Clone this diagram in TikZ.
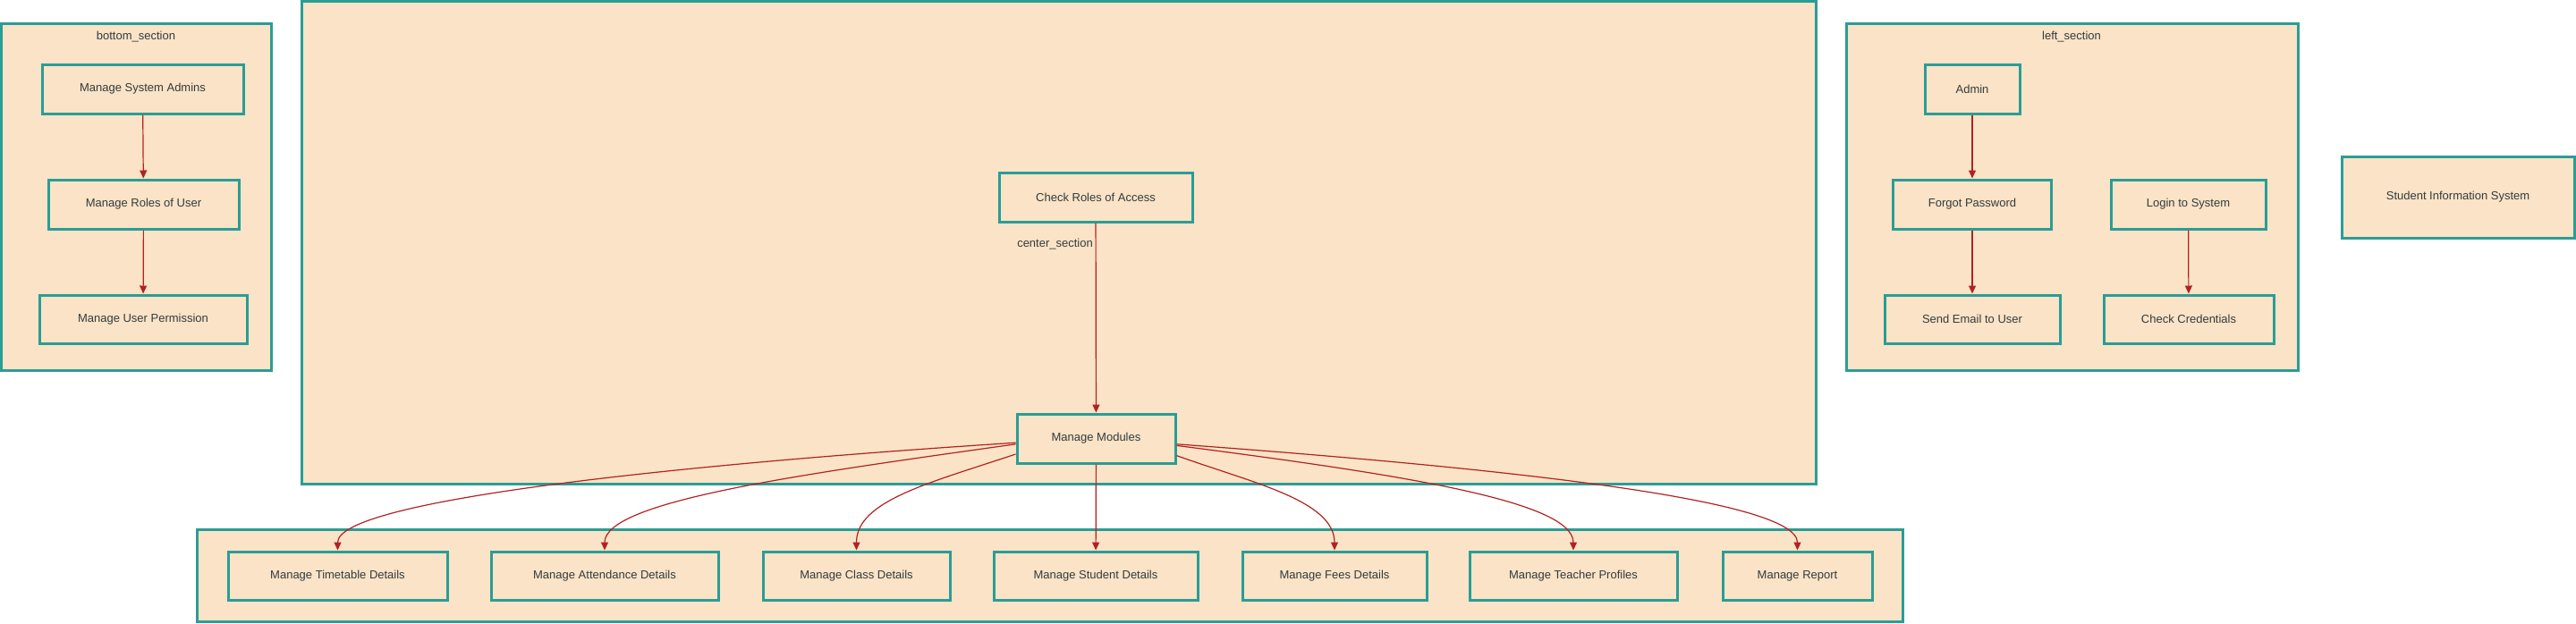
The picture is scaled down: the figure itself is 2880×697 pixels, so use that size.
\documentclass[tikz,border=0pt]{standalone}
\usepackage{fontspec}
\setmainfont{Liberation Sans}
\usetikzlibrary{arrows.meta}
\definecolor{boxfill}{HTML}{FAE3C6}
\definecolor{boxline}{HTML}{2A9D96}
\definecolor{arrowred}{HTML}{B22222}
\definecolor{txt}{HTML}{333B3F}
\tikzset{
  box/.style={draw=boxline, fill=boxfill, line width=3pt, rectangle, inner sep=0pt, text=txt,
    font=\fontsize{13}{15}\selectfont},
  container/.style={draw=boxline, fill=boxfill, line width=3pt},
  ctitle/.style={text=txt, font=\fontsize{13}{15}\selectfont, inner sep=0pt},
  conn/.style={draw=arrowred, line width=1.2pt, -{Triangle[length=9pt,width=8pt]}},
}
\begin{document}
\begin{tikzpicture}[x=1pt,y=-1pt]
\useasboundingbox (0,0) rectangle (2880,697);
% containers
\draw[container] (1.5,26) rectangle (303,414);
\draw[container] (337,1.5) rectangle (2030,541);
\draw[container] (220,592) rectangle (2127,695.5);
\draw[container] (2064,26) rectangle (2569,414);
\node[ctitle] (t1) at (152,41) {bottom\_section};
\node[ctitle] (t2) at (2316,41) {left\_section};
\node[ctitle, anchor=east] (t3) at (1222,273) {center\_section};
% bottom_section
\node[box, minimum width=225, minimum height=55] (MSA) at (159.5,99.5) {Manage System Admins};
\node[box, minimum width=213, minimum height=55] (MRU) at (160.5,228.5) {Manage Roles of User};
\node[box, minimum width=232, minimum height=54] (MUP) at (160,357) {Manage User Permission};
% center
\node[box, minimum width=216, minimum height=55] (CRA) at (1225,220.5) {Check Roles of Access};
\node[box, minimum width=177, minimum height=55] (MM) at (1225.5,490.5) {Manage Modules};
% bottom row
\node[box, minimum width=245, minimum height=54] (TT) at (377.5,644) {Manage Timetable Details};
\node[box, minimum width=254, minimum height=54] (AT) at (676,644) {Manage Attendance Details};
\node[box, minimum width=209, minimum height=54] (CL) at (957.5,644) {Manage Class Details};
\node[box, minimum width=228, minimum height=54] (ST) at (1225,644) {Manage Student Details};
\node[box, minimum width=206, minimum height=54] (FE) at (1492,644) {Manage Fees Details};
\node[box, minimum width=232, minimum height=54] (TE) at (1759,644) {Manage Teacher Profiles};
\node[box, minimum width=167, minimum height=54] (RE) at (2009.5,644) {Manage Report};
% left_section
\node[box, minimum width=106, minimum height=55] (AD) at (2205,99.5) {Admin};
\node[box, minimum width=177, minimum height=55] (FP) at (2205,228.5) {Forgot Password};
\node[box, minimum width=173, minimum height=55] (LS) at (2446.5,228.5) {Login to System};
\node[box, minimum width=196, minimum height=54] (SE) at (2205,357) {Send Email to User};
\node[box, minimum width=190, minimum height=54] (CC) at (2447,357) {Check Credentials};
% standalone
\node[box, minimum width=260, minimum height=91] (SIS) at (2748,220.5) {Student Information System};
% connectors
\draw[conn] (MSA) -- (MRU);
\draw[conn] (MRU) -- (MUP);
\draw[conn] (AD) -- (FP);
\draw[conn] (FP) -- (SE);
\draw[conn] (LS) -- (CC);
\draw[conn] (CRA) -- (MM);
\draw[conn] (MM) -- (ST);
\draw[conn] (MM.183.6) .. controls (750,520) and (377.5,560) .. (TT.north);
\draw[conn] (MM.184.8) .. controls (900,530) and (676,560) .. (AT.north);
\draw[conn] (MM.191.2) .. controls (1040,540) and (957.5,560) .. (CL.north);
\draw[conn] (MM.348.8) .. controls (1400,540) and (1492,560) .. (FE.north);
\draw[conn] (MM.355.2) .. controls (1560,530) and (1759,560) .. (TE.north);
\draw[conn] (MM.356.4) .. controls (1700,525) and (2009.5,560) .. (RE.north);
\end{tikzpicture}
\end{document}
